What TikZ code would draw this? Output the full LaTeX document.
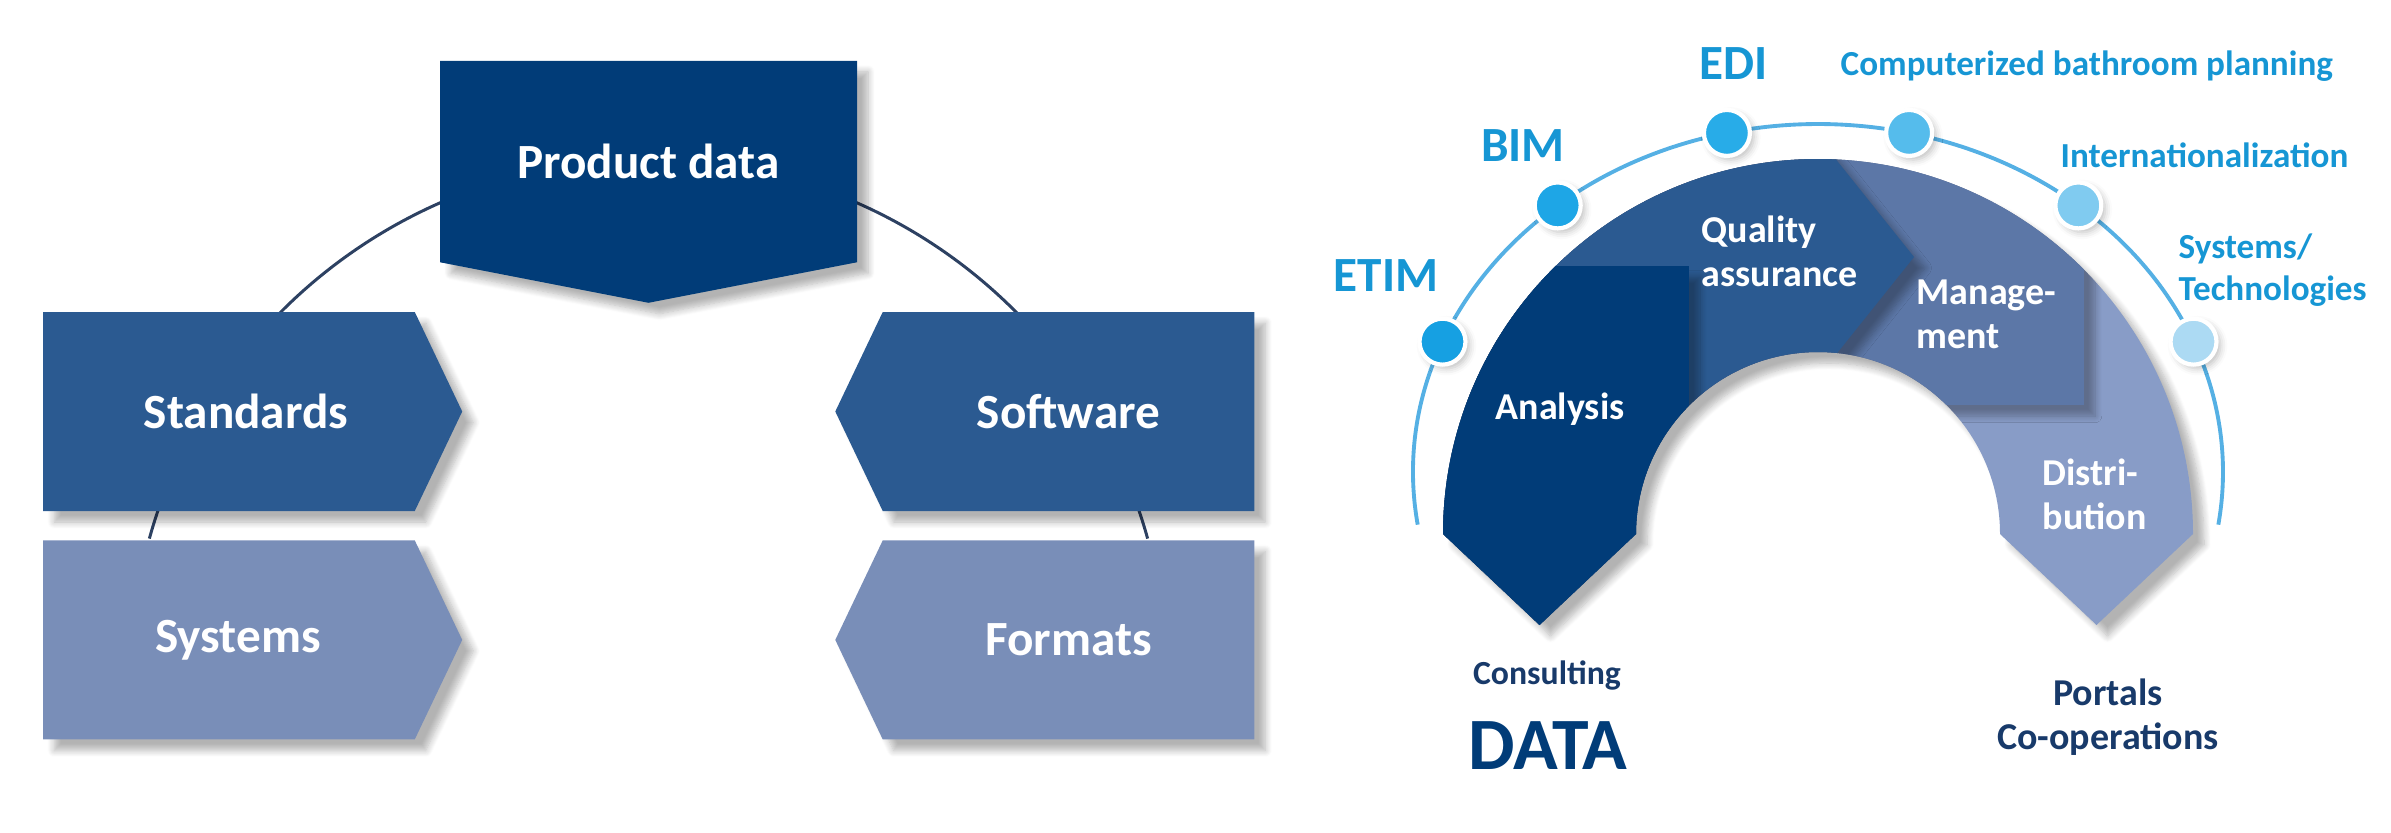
\documentclass[tikz,border=0pt]{standalone}
\usepackage{fontspec}
\setmainfont{Carlito}
\usetikzlibrary{shapes.symbols}
\usetikzlibrary{shadows.blur}
\usetikzlibrary{positioning}
\usetikzlibrary{calc}
\definecolor{navy}{RGB}{1,60,120}
\definecolor{midblue}{RGB}{43,90,145}
\definecolor{mgmtblue}{RGB}{92,119,167}
\definecolor{paleblue}{RGB}{121,142,184}
\definecolor{distblue}{RGB}{136,156,199}
\definecolor{cyantext}{RGB}{22,150,212}
\definecolor{darktext}{RGB}{24,58,106}
\definecolor{arcblue}{RGB}{85,176,228}
\definecolor{linkgray}{RGB}{45,65,98}
\definecolor{dotA}{RGB}{22,160,226}
\definecolor{dotB}{RGB}{30,166,230}
\definecolor{dotC}{RGB}{40,172,232}
\definecolor{dotD}{RGB}{85,188,236}
\definecolor{dotE}{RGB}{128,203,240}
\definecolor{dotF}{RGB}{172,218,243}
\tikzset{soft/.style = {blur shadow={shadow xshift=1.1mm, shadow yshift=-1.1mm,
                                     shadow blur steps=8, shadow opacity=30}}}

\begin{document}
\begin{tikzpicture}[x=0.1mm, y=0.1mm,
    box/.style={signal, signal from=nowhere, fill=#1, text=white, inner sep=0pt,
                font=\bfseries\fontsize{14}{16}\selectfont, soft},
    link/.style={draw=linkgray, line width=0.85pt},
    dot/.style={circle, fill=#1, draw=white, line width=1.2pt, minimum size=4.6mm,
                inner sep=0pt, blur shadow={shadow xshift=0.4mm, shadow yshift=-0.4mm,
                shadow blur steps=4, shadow opacity=25}},
    tag/.style={text=cyantext, inner sep=0pt, font=\bfseries\fontsize{14}{16}\selectfont},
    note/.style={text=cyantext, inner sep=0pt, align=left, font=\bfseries\fontsize{10}{12}\selectfont},
    inband/.style={text=white, inner sep=0pt, align=left, font=\bfseries\fontsize{10.8}{12.6}\selectfont},
    foot/.style={text=darktext, inner sep=0pt, align=center, font=\bfseries\fontsize{10.8}{12.6}\selectfont}]
    \useasboundingbox (0,0) rectangle (2391,832);

    % left: product data
    \coordinate (hub) at (648.5,155);
    \draw [link] (hub) ++(164.5:518) arc [start angle=164.5, end angle=15.5, radius=51.8mm];

    \node [box=navy, signal to=south, signal pointer angle=158,
           minimum width=41.7mm, minimum height=22.7mm] (prod) at (648.5,670.5) {Product data};
    \node [box=midblue, signal to=east, signal pointer angle=129,
           minimum width=41.9mm, minimum height=19.9mm] (std) at (229,420.5) {\hspace*{3.4mm}Standards};
    \node [box=midblue, signal to=west, signal pointer angle=129,
           minimum width=41.9mm, minimum height=19.9mm] (sw) at (1068.5,420.5) {Software};
    \node [box=paleblue, signal to=east, signal pointer angle=129,
           minimum width=41.9mm, minimum height=19.9mm, below=2.8mm of std] (sys) {\hspace*{1.8mm}Systems};
    \node [box=paleblue, signal to=west, signal pointer angle=129,
           minimum width=41.9mm, minimum height=19.9mm, below=2.8mm of sw] (fmt) {Formats};

    % right: data arc
    \coordinate (ec) at (1818,360);
    \draw [arcblue, line width=1.1pt] (ec) ++(188.7:405 and 348)
          arc [start angle=188.7, end angle=-8.7, x radius=40.5mm, y radius=34.8mm];

    \def\horseshoe{(1443,298) arc [start angle=180, end angle=0, radius=37.5mm]
                   -- (2096.5,207) -- (2000,298) arc [start angle=0, end angle=180, radius=18.2mm]
                   -- (1539.5,207) -- cycle}
    \fill [distblue, soft] \horseshoe;
    \begin{scope}
      \clip \horseshoe;
      \fill [mgmtblue, soft] (1300,427) rectangle (2084,900);
      \fill [midblue, soft] (1300,900) -- (1654,900) -- (1914,575) -- (1454,0) -- (1300,0) -- cycle;
      \fill [navy, soft] (1300,0) rectangle (1689,566);
    \end{scope}

    \foreach \a/\c/\n in {158/dotA/d1, 130/dotB/d2, 103/dotC/d3, 77/dotD/d4, 50/dotE/d5, 22/dotF/d6}
      \node [dot=\c] (\n) at ($(ec)+(\a:405 and 348)$) {};

    \node [tag] (etim) at (1386,556) {ETIM};
    \node [tag] (bim) at (1523,686) {BIM};
    \node [tag] (edi) at (1734,768) {EDI};
    \node [note, anchor=west] (cbp) at (1840,766) {Computerized bathroom planning};
    \node [note, anchor=west] (intl) at (2060,677) {Internationalization};
    \node [note, anchor=west] (syst) at (2178,562) {Systems/\\Technologies};

    \node [inband, anchor=west] (qa) at (1701,581) {Quality\\assurance};
    \node [inband] (ana) at (1560,423) {Analysis};
    \node [inband, anchor=west] (mgmt) at (1916,518) {Manage-\\ment};
    \node [inband, anchor=west] (dist) at (2042,338) {Distri-\\bution};

    \node [foot, font=\bfseries\fontsize{9.6}{11.5}\selectfont] (cons) at (1547,157) {Consulting};
    \node [foot, text=navy, font=\bfseries\fontsize{21}{25}\selectfont] (data) at (1548,86) {DATA};
    \node [foot] (port) at (2108,115) {Portals\\Co-operations};
\end{tikzpicture}
\end{document}
